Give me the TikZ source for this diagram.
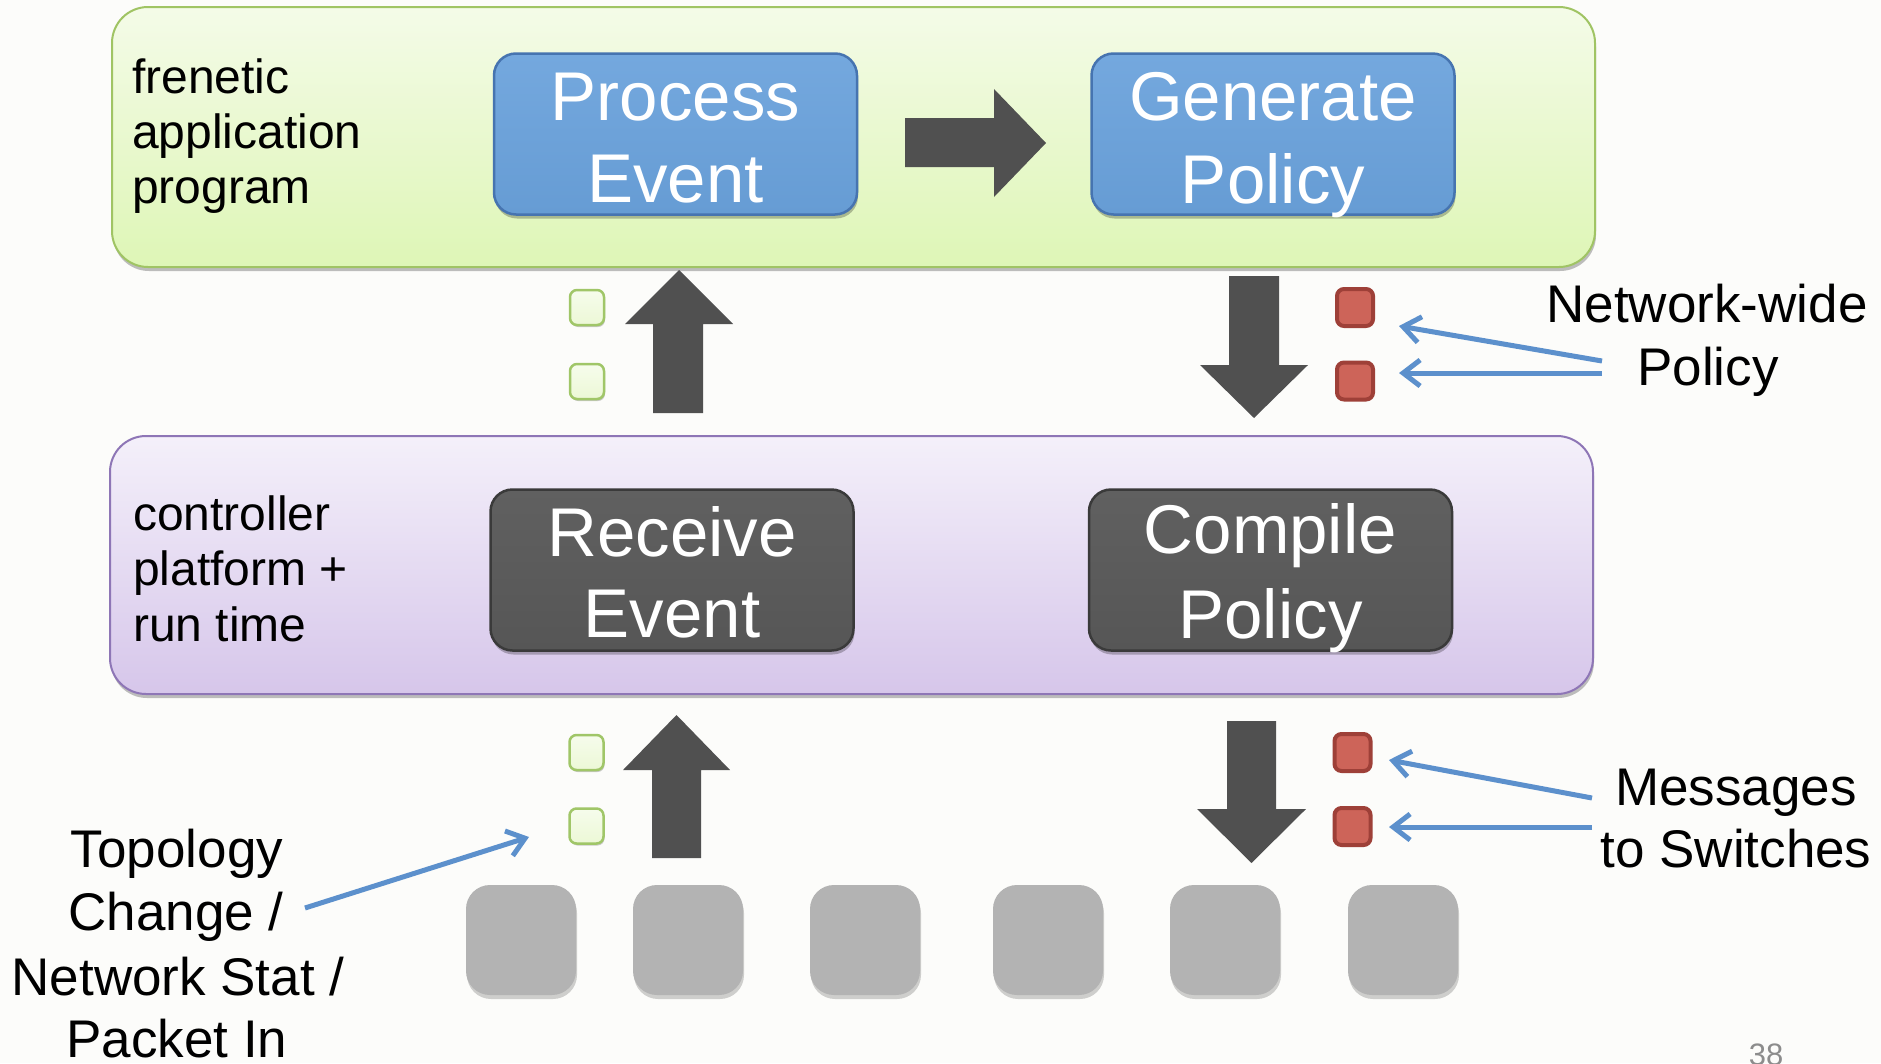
\documentclass[tikz,border=0pt]{standalone}
\usepackage{fontspec}
\setmainfont{Liberation Sans}
\usetikzlibrary{arrows.meta,shadows}

\definecolor{bg}{RGB}{252,252,250}
\definecolor{grtop}{RGB}{244,251,232}
\definecolor{grbot}{RGB}{222,246,182}
\definecolor{grborder}{RGB}{160,196,100}
\definecolor{pptop}{RGB}{244,240,250}
\definecolor{ppbot}{RGB}{214,198,234}
\definecolor{ppborder}{RGB}{142,118,182}
\definecolor{bluefill}{RGB}{102,156,212}
\definecolor{bluetop}{RGB}{116,168,222}
\definecolor{blueborder}{RGB}{70,116,176}
\definecolor{darkfill}{RGB}{86,86,86}
\definecolor{darktop}{RGB}{96,96,96}
\definecolor{darkborder}{RGB}{58,58,58}
\definecolor{arrowgray}{RGB}{80,80,80}
\definecolor{msgred}{RGB}{205,100,89}
\definecolor{msgredborder}{RGB}{158,64,56}
\definecolor{evgreen}{RGB}{236,248,214}
\definecolor{evgreentop}{RGB}{246,252,236}
\definecolor{evgreenborder}{RGB}{160,198,104}
\definecolor{pointer}{RGB}{92,144,204}
\definecolor{switchgray}{RGB}{179,179,179}
\definecolor{pagenum}{RGB}{140,140,140}

\tikzset{
  softshadow/.style={drop shadow={shadow xshift=1pt, shadow yshift=-4pt, opacity=0.25, fill=black}},
  layerbox/.style={draw, rounded corners=36pt, line width=2pt, inner sep=0pt, softshadow},
  greenlayer/.style={layerbox, draw=grborder, top color=grtop, bottom color=grbot},
  purplelayer/.style={layerbox, draw=ppborder, top color=pptop, bottom color=ppbot},
  procbox/.style={draw, rounded corners=22pt, line width=2.5pt, inner sep=0pt,
    minimum width=363pt, minimum height=161pt, softshadow},
  bluebox/.style={procbox, draw=blueborder, top color=bluetop, bottom color=bluefill},
  darkbox/.style={procbox, draw=darkborder, top color=darktop, bottom color=darkfill},
  boxtext/.style={font=\fontsize{69}{82}\selectfont, text=white, inner sep=0pt, anchor=base},
  sidelabel/.style={font=\fontsize{48}{56}\selectfont, inner sep=0pt, anchor=base west},
  notelabel/.style={font=\fontsize{53}{63}\selectfont, inner sep=0pt, anchor=base},
  blockarrow/.style={fill=arrowgray},
  evsq/.style={draw=evgreenborder, top color=evgreentop, bottom color=evgreen, line width=2.5pt,
    rounded corners=7pt, minimum width=34pt, minimum height=35pt, inner sep=0pt,
    drop shadow={shadow xshift=1pt, shadow yshift=-2pt, opacity=0.2, fill=black}},
  polsq/.style={draw=msgredborder, fill=msgred, line width=4pt,
    rounded corners=7pt, minimum width=36pt, minimum height=37pt, inner sep=0pt},
  switchbox/.style={fill=switchgray, rounded corners=24pt, minimum width=110pt,
    minimum height=110pt, inner sep=0pt,
    drop shadow={shadow xshift=1pt, shadow yshift=-4pt, opacity=0.18, fill=black}},
  pointerarrow/.style={draw=pointer, line width=5pt,
    -{Straight Barb[length=17pt, width=26pt, line width=5pt]}},
}

\begin{document}
\begin{tikzpicture}[x=1pt, y=-1pt]
\useasboundingbox (0,0) rectangle (1881,1063);
\fill[bg] (0,0) rectangle (1881,1063);

% layers
\node[greenlayer, minimum width=1483pt, minimum height=260pt] (app) at (853.5,137) {};
\node[purplelayer, minimum width=1483pt, minimum height=258pt] (ctrl) at (851.5,565) {};

% side labels
\node[sidelabel] (appl1) at (132,93) {frenetic};
\node[sidelabel] (appl2) at (132,148) {application};
\node[sidelabel] (appl3) at (132,203) {program};
\node[sidelabel] (ctl1) at (133,530) {controller};
\node[sidelabel] (ctl2) at (133,585) {platform +};
\node[sidelabel] (ctl3) at (133,641) {run time};

% process boxes
\node[bluebox] (proc) at (675.5,134) {};
\node[boxtext] (proct1) at (675.5,120) {Process};
\node[boxtext] (proct2) at (675.5,202) {Event};
\node[bluebox] (gen) at (1273,134) {};
\node[boxtext] (gent1) at (1273,120) {Generate};
\node[boxtext] (gent2) at (1273,203) {Policy};
\node[darkbox] (recv) at (672,570) {};
\node[boxtext] (recvt1) at (672,556) {Receive};
\node[boxtext] (recvt2) at (672,637) {Event};
\node[darkbox] (comp) at (1270.5,570) {};
\node[boxtext] (compt1) at (1270.5,553) {Compile};
\node[boxtext] (compt2) at (1270.5,638) {Policy};

% block arrows
\fill[blockarrow] (905,118) -- (994,118) -- (994,89) -- (1046,143) -- (994,197)
  -- (994,167) -- (905,167) -- cycle;
\fill[blockarrow] (653,413) -- (653,324) -- (625,324) -- (679,270) -- (733,324)
  -- (703,324) -- (703,413) -- cycle;
\fill[blockarrow] (1229,276) -- (1279,276) -- (1279,365) -- (1308,365) -- (1254,418)
  -- (1200,365) -- (1229,365) -- cycle;
\fill[blockarrow] (652,858) -- (652,770) -- (623,770) -- (676.5,715) -- (730,770)
  -- (701,770) -- (701,858) -- cycle;
\fill[blockarrow] (1227,721) -- (1276,721) -- (1276,809) -- (1306,809) -- (1251.5,863)
  -- (1197,809) -- (1227,809) -- cycle;

% event squares (green) and policy squares (red)
\node[evsq] (ev1) at (587,307.5) {};
\node[evsq] (ev2) at (587,381.5) {};
\node[evsq] (ev3) at (586.5,752.5) {};
\node[evsq] (ev4) at (586.5,826) {};
\node[polsq] (pol1) at (1355,307.5) {};
\node[polsq] (pol2) at (1355,381) {};
\node[polsq] (pol3) at (1352.5,752.5) {};
\node[polsq] (pol4) at (1352.5,826.5) {};

% switches
\node[switchbox] (sw1) at (521,940) {};
\node[switchbox] (sw2) at (688,940) {};
\node[switchbox] (sw3) at (865,940) {};
\node[switchbox] (sw4) at (1048,940) {};
\node[switchbox] (sw5) at (1225,940) {};
\node[switchbox] (sw6) at (1403,940) {};

% right labels
\node[notelabel] (nw1) at (1707,322) {Network-wide};
\node[notelabel] (nw2) at (1708,385) {Policy};
\node[notelabel] (ms1) at (1736,805) {Messages};
\node[notelabel] (ms2) at (1736,867) {to Switches};

% left bottom label
\node[notelabel] (tp1) at (177,867) {Topology};
\node[notelabel] (tp2) at (176,930) {Change /};
\node[notelabel] (tp3) at (178,995) {Network Stat /};
\node[notelabel] (tp4) at (177,1057) {Packet In};

% pointer arrows
\coordinate (nwtail1) at (1602,361);
\coordinate (nwtip1) at (1399,326);
\coordinate (nwtail2) at (1602,373);
\coordinate (nwtip2) at (1399,373);
\coordinate (mstail1) at (1592,798);
\coordinate (mstip1) at (1389,760);
\coordinate (mstail2) at (1592,827);
\coordinate (mstip2) at (1389,827);
\coordinate (tptail) at (305,908);
\coordinate (tptip) at (529,837);
\draw[pointerarrow] (nwtail1) -- (nwtip1);
\draw[pointerarrow] (nwtail2) -- (nwtip2);
\draw[pointerarrow] (mstail1) -- (mstip1);
\draw[pointerarrow] (mstail2) -- (mstip2);
\draw[pointerarrow] (tptail) -- (tptip);

% page number
\node[font=\fontsize{31}{36}\selectfont, text=pagenum, inner sep=0pt, anchor=base] (pg) at (1766,1065) {38};
\end{tikzpicture}
\end{document}
